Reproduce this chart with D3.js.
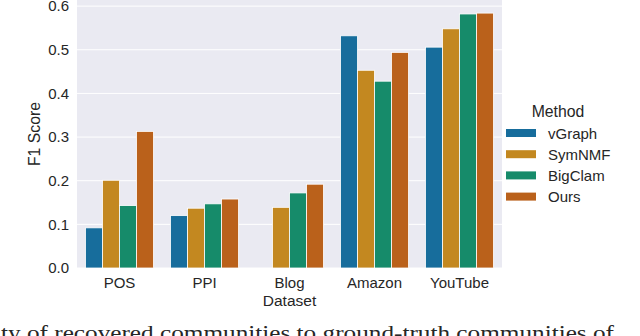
<!DOCTYPE html>
<html>
<head>
<meta charset="utf-8">
<script src="https://cdn.jsdelivr.net/npm/d3@7"></script>
<style>
  body { margin: 0; background: #fff; }
  svg { display: block; }
  text { font-family: "Liberation Sans", Arial, sans-serif; fill: #262626; }
</style>
</head>
<body>
<svg id="chart" width="640" height="336"></svg>
<script>
// values
const datasets = ["POS", "PPI", "Blog", "Amazon", "YouTube"]
const methods = ["vGraph", "SymNMF", "BigClam", "Ours"]
const vGraph  = [0.092, 0.120, null,  0.532, 0.506]
const symNMF  = [0.201, 0.137, 0.139, 0.453, 0.548]
const bigClam = [0.143, 0.147, 0.172, 0.428, 0.582]
const ours    = [0.313, 0.158, 0.192, 0.494, 0.584]
const yTicks = [0, 0.1, 0.2, 0.3, 0.4, 0.5, 0.6]
const colors = ["#176d9c", "#c38820", "#168b6a", "#ba611b"]

const series = [vGraph, symNMF, bigClam, ours]

const svg = d3.select("#chart")
const plot = {left: 77, right: 502, top: 0, bottom: 268}

const x = d3.scaleBand()
    .domain(datasets)
    .range([plot.left, plot.right])
    .paddingInner(0.2)
    .paddingOuter(0.1)

const xm = d3.scaleBand()
    .domain(methods)
    .range([0, x.bandwidth()])

const y = d3.scaleLinear()
    .domain([0, 0.614])
    .range([plot.bottom, plot.top])

const color = d3.scaleOrdinal().domain(methods).range(colors)

// background + grid
svg.append("rect")
    .attr("x", plot.left).attr("y", plot.top)
    .attr("width", plot.right - plot.left).attr("height", plot.bottom - plot.top)
    .attr("fill", "#eaeaf2")

svg.append("g")
    .selectAll("line")
    .data(yTicks)
    .join("line")
      .attr("x1", plot.left).attr("x2", plot.right)
      .attr("y1", d => y(d)).attr("y2", d => y(d))
      .attr("stroke", "#fff")
      .attr("stroke-width", 1)

// bars
const rows = []
datasets.forEach((ds, i) => {
  methods.forEach((m, j) => {
    const v = series[j][i]
    if (v != null) rows.push({ds: ds, method: m, value: v})
  })
})

svg.append("g")
    .selectAll("rect")
    .data(rows)
    .join("rect")
      .attr("x", d => x(d.ds) + xm(d.method))
      .attr("y", d => y(d.value))
      .attr("width", xm.bandwidth())
      .attr("height", d => plot.bottom - y(d.value))
      .attr("fill", d => color(d.method))
      .attr("stroke", "#fff")
      .attr("stroke-width", 0.8)

// axes
const yAxis = svg.append("g")
    .attr("transform", `translate(${plot.left},0)`)
    .call(d3.axisLeft(y).tickValues(yTicks).tickFormat(d3.format(".1f")).tickSize(0).tickPadding(8))
yAxis.select(".domain").remove()
yAxis.selectAll("text")
    .style("font-size", "15px")
    .attr("fill", "#262626")

const xAxis = svg.append("g")
    .attr("transform", `translate(0,${plot.bottom})`)
    .call(d3.axisBottom(x).tickSize(0).tickPadding(9))
xAxis.select(".domain").remove()
xAxis.selectAll("text")
    .style("font-size", "15px")
    .attr("fill", "#262626")

svg.append("text")
    .attr("x", (plot.left + plot.right) / 2)
    .attr("y", 306)
    .attr("text-anchor", "middle")
    .style("font-size", "15.5px")
    .text("Dataset")

svg.append("text")
    .attr("transform", `translate(40,${(plot.top + plot.bottom) / 2}) rotate(-90)`)
    .attr("text-anchor", "middle")
    .style("font-size", "15.8px")
    .text("F1 Score")

// legend
const legend = svg.append("g")
legend.append("text")
    .attr("x", 558).attr("y", 117)
    .attr("text-anchor", "middle")
    .style("font-size", "15.8px")
    .text("Method")

const item = legend.selectAll("g.item")
    .data(methods)
    .join("g")
      .attr("class", "item")
      .attr("transform", (d, i) => `translate(506,${133 + i * 21.2})`)
item.append("rect")
    .attr("x", 0).attr("y", -4)
    .attr("width", 30).attr("height", 8)
    .attr("fill", d => color(d))
item.append("text")
    .attr("x", 42).attr("y", 5.5)
    .style("font-size", "15px")
    .text(d => d)

// clipped caption line of the page below the figure
svg.append("text")
    .attr("x", 1).attr("y", 340)
    .attr("textLength", 613)
    .attr("lengthAdjust", "spacingAndGlyphs")
    .style("font-family", "'Liberation Serif', 'DejaVu Serif', serif")
    .style("font-size", "21px")
    .attr("fill", "#111")
    .text("ty of recovered communities to ground-truth communities of")
</script>
</body>
</html>
